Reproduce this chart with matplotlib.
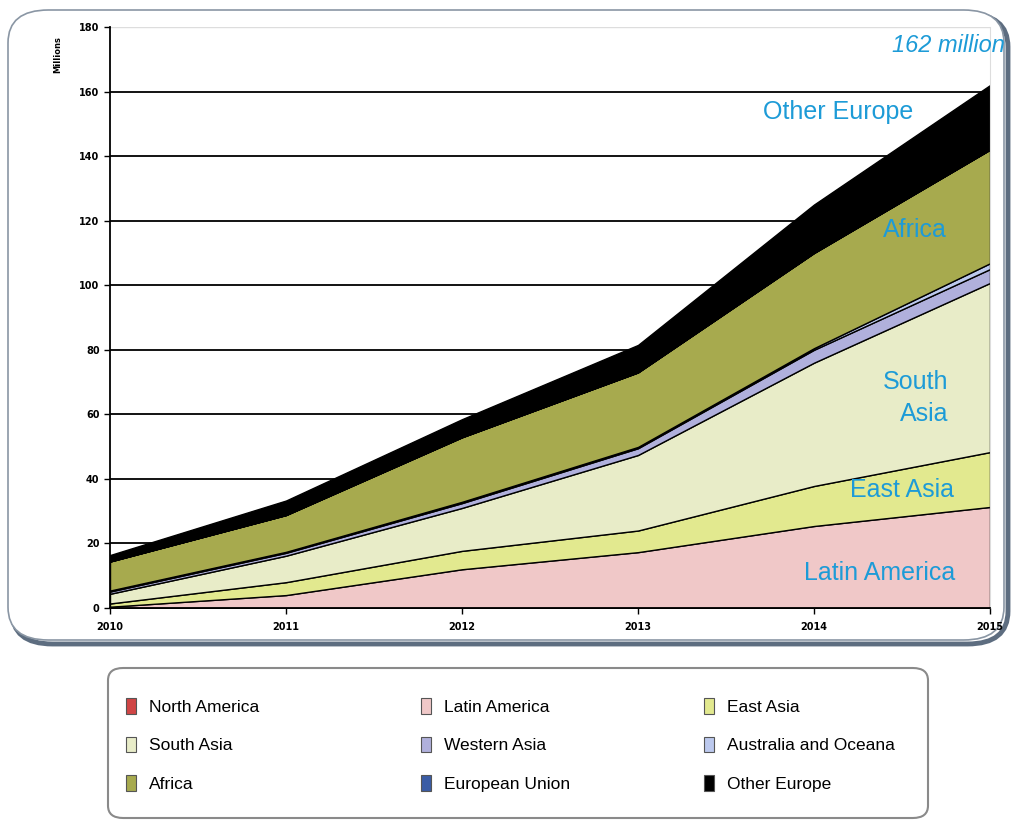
import matplotlib
matplotlib.use('Agg')
import matplotlib.pyplot as plt
from matplotlib.patches import FancyBboxPatch, Patch

# data (millions)
years = [2010, 2011, 2012, 2013, 2014, 2015]
regions = ['North America', 'Latin America', 'East Asia', 'South Asia', 'Western Asia',
           'Australia and Oceana', 'Africa', 'European Union', 'Other Europe']
north_america = [0, 0, 0, 0, 0, 0]
latin_america = [0.4, 4.0, 12.0, 17.3, 25.4, 31.3]
east_asia = [1.0, 4.0, 5.7, 6.7, 12.4, 17.0]
south_asia = [3.0, 8.2, 13.3, 23.4, 38.2, 52.4]
western_asia = [0.7, 0.9, 1.5, 2.1, 4.0, 4.3]
australia = [0.3, 0.3, 0.4, 0.4, 0.5, 1.8]
africa = [9.0, 11.4, 20.0, 23.1, 29.5, 35.2]
european_union = [0, 0, 0, 0, 0, 0]
other_europe = [2.0, 4.5, 5.6, 8.5, 15.0, 20.0]
series = [north_america, latin_america, east_asia, south_asia, western_asia,
          australia, africa, european_union, other_europe]
colors = ['#d04545', '#f0c8c8', '#e2e98f', '#e8ecc8', '#b0b0dc',
          '#bcc9ee', '#a7aa4e', '#3a5ca5', '#000000']

yticks = list(range(0, 181, 20))
blue = '#1d9bd7'
font = 'Liberation Sans'

fig = plt.figure(figsize=(10.11, 8.22), dpi=100)

# rounded frame around the chart, with shadow
shadow = FancyBboxPatch((12 / 1011, 1 - 644 / 822), 996 / 1011, 630 / 822,
                        boxstyle='round,pad=0,rounding_size=0.04', transform=fig.transFigure,
                        fc='none', ec='#5d6d80', lw=3.5, zorder=-2)
frame = FancyBboxPatch((8 / 1011, 1 - 640 / 822), 996 / 1011, 630 / 822,
                       boxstyle='round,pad=0,rounding_size=0.04', transform=fig.transFigure,
                       fc='white', ec='#8a96a4', lw=1.2, zorder=-1)
# legend frame
lframe = FancyBboxPatch((108 / 1011, 1 - 818 / 822), 820 / 1011, 150 / 822,
                        boxstyle='round,pad=0,rounding_size=0.015', transform=fig.transFigure,
                        fc='white', ec='#8a8a8a', lw=1.5, zorder=-1)
fig.patches.extend([shadow, frame, lframe])

ax = fig.add_axes([110 / 1011, 1 - 608 / 822, 880 / 1011, 581 / 822])
ax.set_facecolor('none')
ax.stackplot(years, *series, colors=colors, edgecolor='black', linewidth=1.0, zorder=2)

for v in yticks[1:-1]:
    ax.axhline(v, color='black', lw=1.3, zorder=1)
ax.axhline(180, color='#dddddd', lw=1.0, zorder=1)

ax.set_xlim(2010, 2015)
ax.set_ylim(0, 180)
ax.set_xticks(years)
ax.set_yticks(yticks)
ax.tick_params(axis='both', labelsize=7, length=4, width=1, colors='black')
ax.tick_params(axis='x', pad=6)
for lbl in ax.get_xticklabels() + ax.get_yticklabels():
    lbl.set_fontweight('bold')
ax.spines['top'].set_visible(False)
ax.spines['right'].set_color('#dddddd')
ax.spines['left'].set_linewidth(1.3)
ax.spines['bottom'].set_linewidth(1.3)

fig.text(58 / 1011, 1 - 55 / 822, 'Millions', rotation=90, fontsize=6, fontweight='bold',
         ha='center', va='center')

# labels on the areas
fig.text(1005 / 1011, 1 - 45 / 822, '162 million', color=blue, fontsize=17, style='italic',
         family=font, ha='right', va='center')
fig.text(838 / 1011, 1 - 112 / 822, 'Other Europe', color=blue, fontsize=18,
         family=font, ha='center', va='center')
fig.text(915 / 1011, 1 - 230 / 822, 'Africa', color=blue, fontsize=18,
         family=font, ha='center', va='center')
fig.text(948 / 1011, 1 - 398 / 822, 'South\nAsia', color=blue, fontsize=18,
         family=font, ha='right', va='center', linespacing=1.4)
fig.text(902 / 1011, 1 - 490 / 822, 'East Asia', color=blue, fontsize=18,
         family=font, ha='center', va='center')
fig.text(880 / 1011, 1 - 573 / 822, 'Latin America', color=blue, fontsize=18,
         family=font, ha='center', va='center')

# legend: three columns, filled row by row
handles = [Patch(facecolor=c, edgecolor='#555555', lw=0.8, label=r) for r, c in zip(regions, colors)]
col_x = [126, 421, 704]
for k, x in enumerate(col_x):
    idx = [k, k + 3, k + 6]
    leg = fig.legend([handles[i] for i in idx], [regions[i] for i in idx],
                     loc='center left', bbox_to_anchor=(x / 1011, 1 - 745 / 822),
                     frameon=False, prop={'family': font, 'size': 12.5},
                     handlelength=0.6, handleheight=1.0, handletextpad=0.7,
                     labelspacing=1.25, borderpad=0, borderaxespad=0)

fig.savefig('out.png', dpi=100)
